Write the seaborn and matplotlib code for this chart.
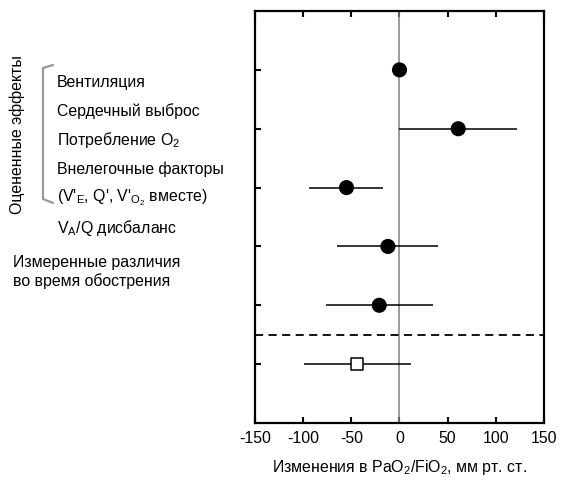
import matplotlib
matplotlib.use("Agg")
import pandas as pd
import seaborn as sns
from matplotlib import pyplot as plt
from matplotlib.lines import Line2D

# data
rows = [0, 1, 2, 3, 4, 5]
effect = [0, 61, -55, -12, -21, -44]
ci_low = [0, 0, -94, -65, -76, -99]
ci_high = [0, 122, -17, 40, 35, 12]
kind = ["оценка", "оценка", "оценка", "оценка", "оценка", "измерение"]
xticks = [-150, -100, -50, 0, 50, 100, 150]

sns.set_theme(style="white")
plt.rcParams['font.family'] = ['Liberation Sans', 'DejaVu Sans']
plt.rcParams['mathtext.default'] = 'regular'
plt.rcParams['text.color'] = 'black'
plt.rcParams['axes.labelcolor'] = 'black'
plt.rcParams['xtick.color'] = 'black'
plt.rcParams['ytick.color'] = 'black'

df = pd.DataFrame({"row": rows, "effect": effect, "lo": ci_low, "hi": ci_high, "kind": kind})

fig = plt.figure(figsize=(5.67, 4.81), dpi=100)
ax = fig.add_axes([0.4497, 0.1185, 0.5097, 0.8565])

ax.axvline(0, color="#808080", lw=1.1, zorder=1)
ax.axhline(4.5, color="black", lw=1.3, ls=(0, (4.5, 3)), zorder=1)
ax.hlines(df["row"], df["lo"], df["hi"], color="black", lw=1.1, zorder=2)

sns.scatterplot(data=df, x="effect", y="row", style="kind",
                markers={"оценка": "o", "измерение": "s"},
                size="kind", sizes={"оценка": 95, "измерение": 75},
                hue="kind", palette={"оценка": "black", "измерение": "white"},
                edgecolor="black", linewidth=1.1, legend=False, ax=ax, zorder=3)

fs = 11.4
ax.set_xlim(-150, 150)
ax.set_ylim(6, -1)
ax.set_xticks(xticks)
ax.set_xticklabels([str(t) for t in xticks], fontsize=fs)
ax.set_yticks(rows)
ax.set_yticklabels([])
ax.set_ylabel("")
ax.set_xlabel("Изменения в PaO$_2$/FiO$_2$, мм рт. ст.", fontsize=fs, labelpad=9)
ax.tick_params(axis="x", direction="in", length=4.5, width=1.5, top=True, bottom=True, pad=5)
ax.tick_params(axis="y", direction="in", length=4.5, width=1.5, left=True, right=False)
for s in ax.spines.values():
    s.set_linewidth(1.6)
    s.set_color("black")

# left-hand labels
W, H = 567, 481
def ftext(x, y, s, **kw):
    fig.text(x / W, 1 - y / H, s, fontsize=fs, va="center", ha="left", **kw)

ftext(57, 82, "Вентиляция")
ftext(57, 111, "Сердечный выброс")
ftext(57, 140, "Потребление O$_2$")
ftext(57, 169, "Внелегочные факторы")
ftext(57, 198, "(V'$_E$, Q', V'$_{O_2}$ вместе)")
ftext(57, 228, "V$_A$/Q дисбаланс")
ftext(13, 262, "Измеренные различия")
ftext(13, 281, "во время обострения")
fig.text(17 / W, 1 - 135 / H, "Оцененные эффекты", fontsize=fs, rotation=90,
         va="center", ha="center")

# grey bracket
bx = [53 / W, 43 / W, 43 / W, 53 / W]
by = [1 - 66 / H, 1 - 69 / H, 1 - 200 / H, 1 - 204 / H]
fig.add_artist(Line2D(bx, by, color="#999999", lw=1.6))

fig.savefig("out.png", dpi=100)
